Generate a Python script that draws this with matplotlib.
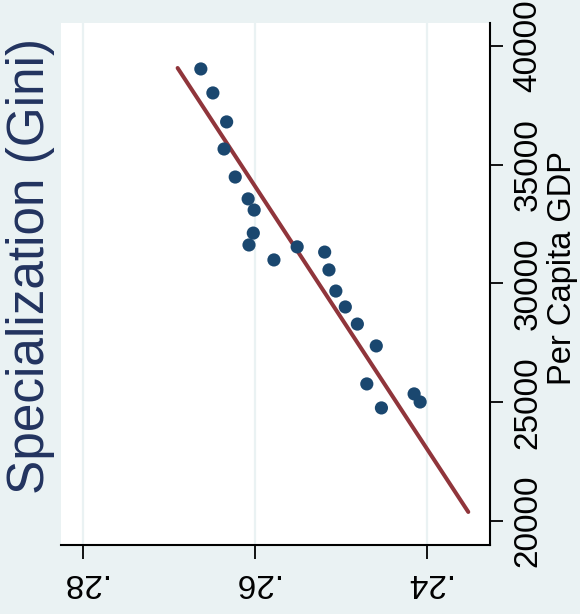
import matplotlib

matplotlib.use("Agg")
import matplotlib.pyplot as plt

# Specialization (Gini) vs per capita GDP, chart drawn turned on its side
gini = [0.2663, 0.2649, 0.2633, 0.2636, 0.2623, 0.2608, 0.2601, 0.2602,
        0.2607, 0.2578, 0.2551, 0.2519, 0.2514, 0.2506, 0.2495, 0.2481,
        0.2459, 0.2470, 0.2453, 0.2415, 0.2408]
gdp = [39030, 38020, 36800, 35660, 34480, 33560, 33090, 32120,
       31620, 30990, 31540, 31320, 30570, 29680, 29010, 28290,
       27370, 25770, 24760, 25350, 25010]

fit_gini = [0.2690, 0.2352]
fit_gdp = [39070, 20380]

gini_ticks = [0.28, 0.26, 0.24]
gini_labels = [".28", ".26", ".24"]
gdp_ticks = [20000, 25000, 30000, 35000, 40000]

BG = "#eaf2f3"
NAVY = "#1a476f"
MAROON = "#90353b"

plt.rcParams["font.family"] = ["Liberation Sans", "DejaVu Sans"]

fig = plt.figure(figsize=(5.8, 6.14), dpi=100, facecolor=BG)
ax = fig.add_axes([0.1052, 0.1124, 0.7397, 0.8502])
ax.set_facecolor("white")

ax.plot(fit_gini, fit_gdp, color=MAROON, lw=2.9, solid_capstyle="round", zorder=2)
ax.scatter(gini, gdp, s=90, color=NAVY, edgecolors="none", zorder=3)

ax.set_xlim(0.28256, 0.23267)
ax.set_ylim(18990, 40966)

ax.set_xticks(gini_ticks)
ax.set_xticklabels(gini_labels, rotation=180, fontsize=24)
ax.yaxis.tick_right()
ax.set_yticks(gdp_ticks)
ax.set_yticklabels([str(v) for v in gdp_ticks], rotation=90, va="center",
                   fontsize=24)
ax.tick_params(axis="x", length=10, width=1.3, pad=6, colors="black")
ax.tick_params(axis="y", length=9, width=1.3, pad=7, colors="black")

ax.grid(axis="x", color=BG, lw=1.6)
ax.set_axisbelow(True)

for side in ("left", "top"):
    ax.spines[side].set_visible(False)
for side in ("bottom", "right"):
    ax.spines[side].set_linewidth(1.5)

ax.yaxis.set_label_position("right")
ax.set_ylabel("Per Capita GDP", fontsize=23.5, rotation=90, labelpad=0)
ax.yaxis.set_label_coords(1.17, 0.53)
ax.yaxis.label.set_va("center")

fig.text(0.052, 0.567, "Specialization (Gini)", rotation=90, fontsize=37,
         color="#22335f", ha="center", va="center")

fig.savefig("out.png", dpi=100, facecolor=BG)
